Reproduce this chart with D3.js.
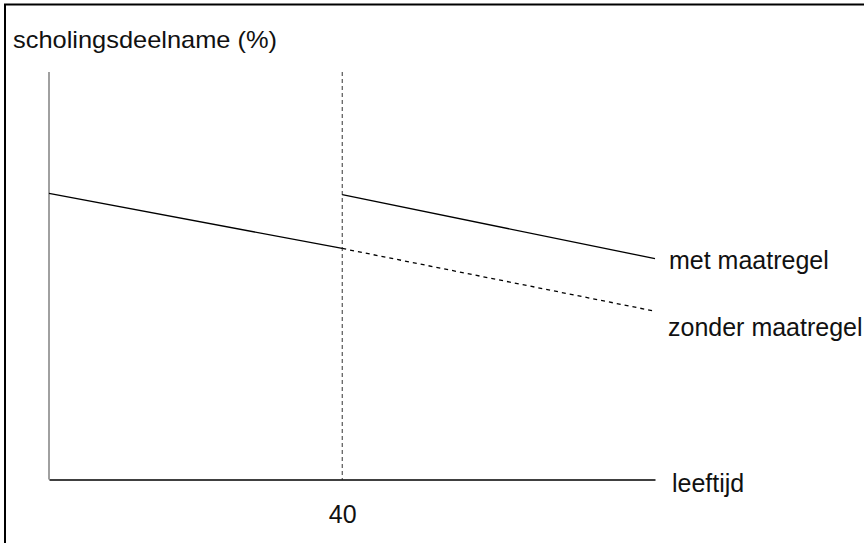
<!DOCTYPE html>
<html>
<head>
<meta charset="utf-8">
<script src="https://cdn.jsdelivr.net/npm/d3@7/dist/d3.min.js"></script>
<style>
  html, body { margin: 0; padding: 0; background: #fff; }
  svg { display: block; }
  text { font-family: "Liberation Sans", Arial, sans-serif; fill: #111; }
</style>
</head>
<body>
<svg id="chart" width="864" height="543"></svg>
<script>
// ---- data ----
const ageDomain = [17.5, 64];            // leeftijd range shown
const zonderAges = [17.5, 40, 64];       // "zonder maatregel"
const zonderValues = [70.2, 56.7, 41.3];
const metAges = [40, 64];                // "met maatregel"
const metValues = [69.9, 54.2];
const tickAges = [40];
const tickLabels = ["40"];
const yDomain = [0, 100];
const yTitle = "scholingsdeelname (%)";
const xTitle = "leeftijd";
const seriesLabels = ["met maatregel", "zonder maatregel"];

// ---- drawing ----
const svg = d3.select("#chart");
const x = d3.scaleLinear().domain(ageDomain).range([49, 655]);
const y = d3.scaleLinear().domain(yDomain).range([479.5, 72]);

// frame (right/bottom edges fall outside the picture)
svg.append("rect").attr("x", 5).attr("y", 4.5).attr("width", 900).attr("height", 600)
  .attr("fill", "none").attr("stroke", "#000").attr("stroke-width", 2);

// vertical dashed line at 40
svg.append("line")
  .attr("x1", x(40)).attr("x2", x(40)).attr("y1", y(100)).attr("y2", y(0))
  .attr("stroke", "#333").attr("stroke-width", 1).attr("stroke-dasharray", "4,3");

// y axis (grey)
svg.append("line")
  .attr("x1", x(ageDomain[0])).attr("x2", x(ageDomain[0])).attr("y1", y(100)).attr("y2", y(0))
  .attr("stroke", "#808080").attr("stroke-width", 1.5);

// x axis
const xAxis = d3.axisBottom(x).tickValues(tickAges).tickFormat((d, i) => tickLabels[i])
  .tickSize(0).tickPadding(26);
const gx = svg.append("g").attr("transform", `translate(0,${y(0)})`).call(xAxis);
gx.select(".domain").attr("stroke", "#000").attr("stroke-width", 1.3);
gx.selectAll(".tick text").attr("font-size", 25).attr("font-family", "Liberation Sans, Arial, sans-serif").attr("fill", "#111");

const line = d3.line().x(d => x(d[0])).y(d => y(d[1]));

// zonder maatregel: solid before 40, dashed after
const zonderPts = zonderAges.map((a, i) => [a, zonderValues[i]]);
svg.append("path").attr("d", line(zonderPts.filter(p => p[0] <= 40)))
  .attr("fill", "none").attr("stroke", "#000").attr("stroke-width", 1.3);
svg.append("path").attr("d", line(zonderPts.filter(p => p[0] >= 40)))
  .attr("fill", "none").attr("stroke", "#000").attr("stroke-width", 1.3)
  .attr("stroke-dasharray", "4,4");

// met maatregel
const metPts = metAges.map((a, i) => [a, metValues[i]]);
svg.append("path").attr("d", line(metPts))
  .attr("fill", "none").attr("stroke", "#000").attr("stroke-width", 1.3);

// texts
svg.append("text").attr("x", 13).attr("y", 48).attr("font-size", 24)
  .attr("textLength", 264).attr("lengthAdjust", "spacingAndGlyphs").text(yTitle);

svg.append("text").attr("x", x(ageDomain[1]) + 17).attr("y", y(0) + 12.5)
  .attr("font-size", 25).text(xTitle);

svg.append("text").attr("x", x(ageDomain[1]) + 14).attr("y", y(metValues[1]) + 10.5)
  .attr("font-size", 25).text(seriesLabels[0]);

svg.append("text").attr("x", x(ageDomain[1]) + 13).attr("y", y(zonderValues[2]) + 25)
  .attr("font-size", 25).text(seriesLabels[1]);
</script>
</body>
</html>
